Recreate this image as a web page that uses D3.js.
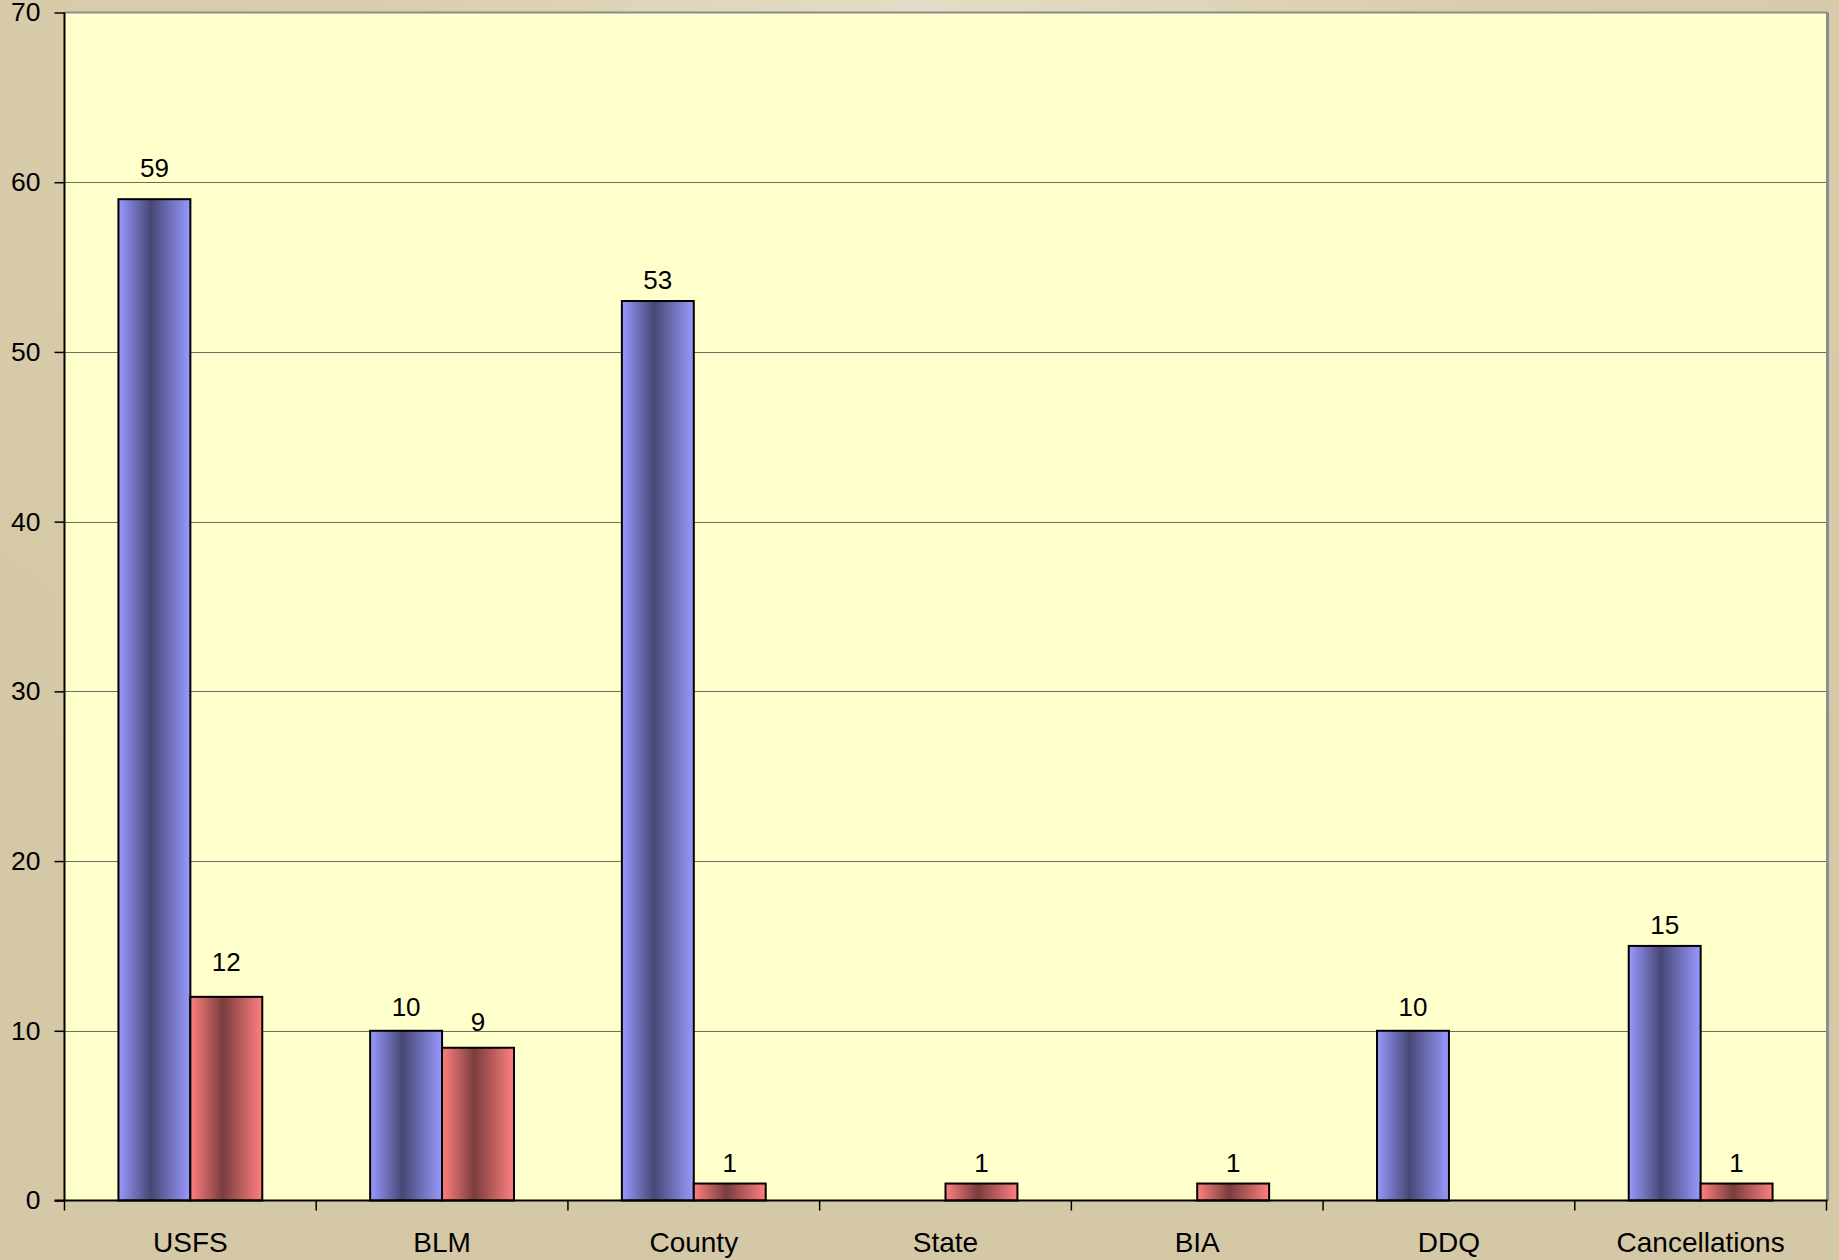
<!DOCTYPE html>
<html>
<head>
<meta charset="utf-8">
<script src="https://cdn.jsdelivr.net/npm/d3@7"></script>
<style>
  html, body { margin: 0; padding: 0; background: #d5c8a6; }
  svg { display: block; }
  text { font-family: "Liberation Sans", Arial, sans-serif; fill: #000; }
</style>
</head>
<body>
<script>
// chart data
const categories = ["USFS", "BLM", "County", "State", "BIA", "DDQ", "Cancellations"];
const seriesA = [59, 10, 53, null, null, 10, 15];
const seriesB = [12, 9, 1, 1, 1, null, 1];
const yTicks = [0, 10, 20, 30, 40, 50, 60, 70];

// how far each value label sits above its bar (px), as in the original
const liftA = [22, 15, 12, 0, 0, 15, 12];
const liftB = [26, 17, 12, 12, 12, 0, 12];

const W = 1839, H = 1260;
const plotL = 64.5, plotR = 1826.5, plotT = 12.5, plotB = 1200.5;

const svg = d3.select("body").append("svg")
  .attr("width", W)
  .attr("height", H);

const defs = svg.append("defs");

// page background - light band near top
const bg = defs.append("radialGradient")
  .attr("id", "bg")
  .attr("cx", "50%").attr("cy", "0%")
  .attr("r", "75%");
bg.append("stop").attr("offset", "0%").attr("stop-color", "#e4dcc6");
bg.append("stop").attr("offset", "40%").attr("stop-color", "#d9cdad");
bg.append("stop").attr("offset", "100%").attr("stop-color", "#d5c8a6");

svg.append("rect")
  .attr("width", W).attr("height", H)
  .attr("fill", "url(#bg)");

// bar gradients
function barGradient(id, edge, mid) {
  const g = defs.append("linearGradient")
    .attr("id", id)
    .attr("x1", "0%").attr("x2", "100%")
    .attr("y1", "0%").attr("y2", "0%");
  g.append("stop").attr("offset", "0%").attr("stop-color", edge);
  g.append("stop").attr("offset", "45%").attr("stop-color", mid);
  g.append("stop").attr("offset", "100%").attr("stop-color", edge);
}
barGradient("gradA", "#9999ff", "#474775");
barGradient("gradB", "#ff8080", "#7a3d3d");

const x = d3.scaleBand()
  .domain(categories)
  .range([plotL, plotR])
  .paddingInner(0)
  .paddingOuter(0);

const x1 = d3.scaleBand()
  .domain(["a", "b"])
  .range([0, x.bandwidth()])
  .paddingInner(0)
  .paddingOuter(0.75);

const y = d3.scaleLinear()
  .domain([0, 70])
  .range([plotB, plotT]);

// plot area
svg.append("rect")
  .attr("x", plotL).attr("y", plotT)
  .attr("width", plotR - plotL).attr("height", plotB - plotT)
  .attr("fill", "#ffffcc");

// gridlines
svg.append("g")
  .selectAll("line")
  .data(yTicks.filter(d => d > 0 && d < 70))
  .join("line")
  .attr("x1", plotL).attr("x2", plotR)
  .attr("y1", d => Math.round(y(d)) + 0.5)
  .attr("y2", d => Math.round(y(d)) + 0.5)
  .attr("stroke", "#6e6e60")
  .attr("stroke-width", 1);

// plot border top / right
svg.append("line")
  .attr("x1", plotL).attr("x2", plotR + 1)
  .attr("y1", plotT).attr("y2", plotT)
  .attr("stroke", "#8c8c8c").attr("stroke-width", 2);
svg.append("line")
  .attr("x1", plotR + 1).attr("x2", plotR + 1)
  .attr("y1", plotT).attr("y2", plotB)
  .attr("stroke", "#8c8c8c").attr("stroke-width", 3);

// bars
const groups = svg.append("g")
  .selectAll("g")
  .data(categories)
  .join("g")
  .attr("transform", d => `translate(${x(d)},0)`);

const pairs = (c, i) => [
  { key: "a", v: seriesA[i], lift: liftA[i] },
  { key: "b", v: seriesB[i], lift: liftB[i] }
].filter(p => p.v != null);

groups.selectAll("rect")
  .data(pairs)
  .join("rect")
  .attr("x", d => x1(d.key))
  .attr("y", d => y(d.v))
  .attr("width", x1.bandwidth())
  .attr("height", d => y(0) - y(d.v))
  .attr("fill", d => d.key === "a" ? "url(#gradA)" : "url(#gradB)")
  .attr("stroke", "#000")
  .attr("stroke-width", 2);

groups.selectAll("text.val")
  .data(pairs)
  .join("text")
  .attr("class", "val")
  .attr("x", d => x1(d.key) + x1.bandwidth() / 2)
  .attr("y", d => y(d.v) - d.lift)
  .attr("text-anchor", "middle")
  .attr("font-size", 26)
  .text(d => d.v);

// y axis
const yAxis = svg.append("g")
  .attr("transform", `translate(${plotL},0)`)
  .call(d3.axisLeft(y).tickValues(yTicks).tickSize(10).tickPadding(14));
yAxis.select(".domain").attr("stroke", "#000").attr("stroke-width", 2)
  .attr("d", `M0,${plotT}V${plotB}`);
yAxis.selectAll(".tick line").attr("stroke", "#000").attr("stroke-width", 1.5);
yAxis.selectAll(".tick text")
  .attr("font-size", 26.5)
  .attr("font-family", "Liberation Sans, Arial, sans-serif")
  .attr("fill", "#000");

// x axis
const xTickPos = categories.map(c => x(c)).concat([plotR]);
const xAxis = svg.append("g");
xAxis.append("line")
  .attr("x1", plotL - 10).attr("x2", plotR + 1)
  .attr("y1", plotB).attr("y2", plotB)
  .attr("stroke", "#000").attr("stroke-width", 2);
xAxis.selectAll("line.tick")
  .data(xTickPos)
  .join("line")
  .attr("class", "tick")
  .attr("x1", d => d).attr("x2", d => d)
  .attr("y1", plotB).attr("y2", plotB + 10)
  .attr("stroke", "#000").attr("stroke-width", 1.5);
xAxis.selectAll("text")
  .data(categories)
  .join("text")
  .attr("x", d => x(d) + x.bandwidth() / 2)
  .attr("y", 1251.5)
  .attr("text-anchor", "middle")
  .attr("font-size", 28)
  .text(d => d);
</script>
</body>
</html>
